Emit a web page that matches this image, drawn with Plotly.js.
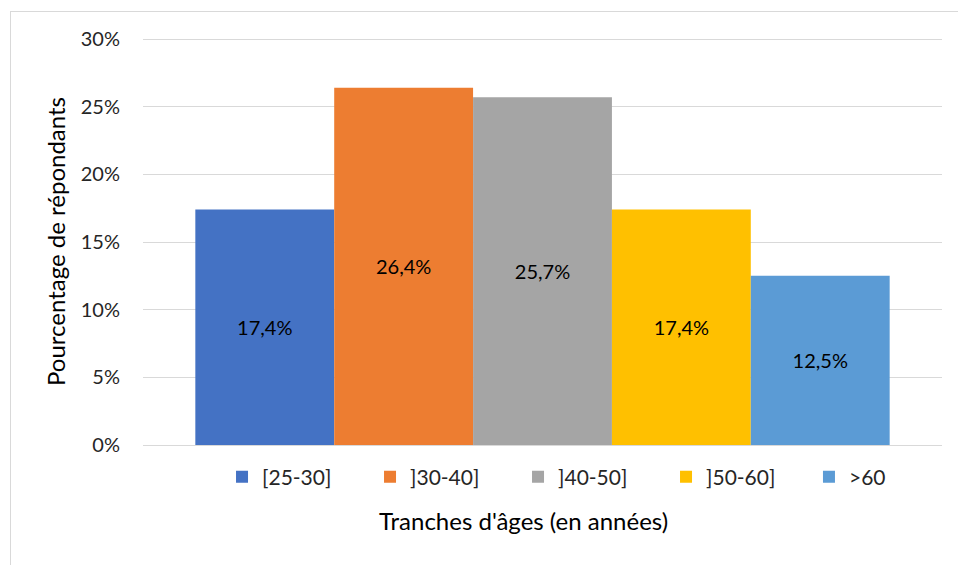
<!DOCTYPE html>
<html>
<head>
<meta charset="utf-8">
<script src="https://cdn.plot.ly/plotly-3.0.1.min.js"></script>
<style>
html,body{margin:0;padding:0;background:#fff;}
#wrap{position:relative;width:958px;height:565px;overflow:hidden;}
#frame{position:absolute;left:10px;top:11px;width:960px;height:570px;border:1px solid #d9d9d9;box-sizing:border-box;pointer-events:none;}
#chart{position:absolute;left:0;top:0;width:958px;height:565px;}
</style>
</head>
<body>
<div id="wrap">
<div id="chart"></div>
<div id="frame"></div>
</div>
<script>
const categories = ['[25-30]', ']30-40]', ']40-50]', ']50-60]', '>60'];
const values = [17.4, 26.4, 25.7, 17.4, 12.5];
const colors = ['#4472c4', '#ed7d31', '#a5a5a5', '#ffc000', '#5b9bd5'];
const yTicks = [0, 5, 10, 15, 20, 25, 30];
const yTickLabels = ['0%', '5%', '10%', '15%', '20%', '25%', '30%'];
const xTitle = "Tranches d'âges (en années)";
const yTitle = 'Pourcentage de répondants';

const font = 'Lato, "Open Sans", sans-serif';

const traces = categories.map((c, i) => ({
  type: 'bar',
  name: c,
  x: [''],
  y: [values[i]],
  marker: {color: colors[i]},
  texttemplate: '%{y:.1f}%',
  textposition: 'inside',
  insidetextanchor: 'middle',
  textfont: {family: font, size: 20, color: '#000'},
  hoverinfo: 'name+y',
  legend: i < categories.length - 1 ? 'legend' : 'legend2'
}));

const legendFont = {family: font, size: 21, color: '#262626'};

const layout = {
  width: 958,
  height: 565,
  margin: {l: 143, r: 16, t: 38, b: 120},
  paper_bgcolor: '#fff',
  plot_bgcolor: '#fff',
  separators: ', ',
  barmode: 'group',
  bargap: 0.131,
  bargroupgap: 0,
  font: {family: font, color: '#262626'},
  showlegend: true,
  legend: {
    orientation: 'h',
    x: 0.0989, xanchor: 'left',
    y: -0.079, yanchor: 'middle',
    bgcolor: 'rgba(0,0,0,0)',
    font: legendFont,
    entrywidth: 103,
    entrywidthmode: 'pixels',
    traceorder: 'normal'
  },
  legend2: {
    orientation: 'h',
    x: 0.8335, xanchor: 'left',
    y: -0.079, yanchor: 'middle',
    bgcolor: 'rgba(0,0,0,0)',
    font: legendFont
  },
  xaxis: {
    type: 'category',
    showticklabels: false,
    showgrid: false,
    zeroline: false,
    showline: false,
    ticks: ''
  },
  yaxis: {
    range: [0, 30.08],
    tickvals: yTicks,
    ticktext: yTickLabels,
    tickfont: {family: font, size: 20, color: '#262626'},
    gridcolor: '#d9d9d9',
    gridwidth: 1,
    zeroline: true,
    zerolinecolor: '#d9d9d9',
    zerolinewidth: 1,
    showline: false,
    ticks: 'outside',
    ticklen: 18,
    tickcolor: 'rgba(0,0,0,0)',
    title: {text: yTitle, font: {family: font, size: 24, color: '#000'}, standoff: 8}
  },
  annotations: [{
    text: xTitle,
    xref: 'paper', yref: 'paper',
    x: 0.4756, xanchor: 'center',
    y: -0.1847, yanchor: 'middle',
    showarrow: false,
    font: {family: font, size: 24, color: '#000'}
  }]
};

Plotly.newPlot('chart', traces, layout, {displayModeBar: false, staticPlot: true});
</script>
</body>
</html>
